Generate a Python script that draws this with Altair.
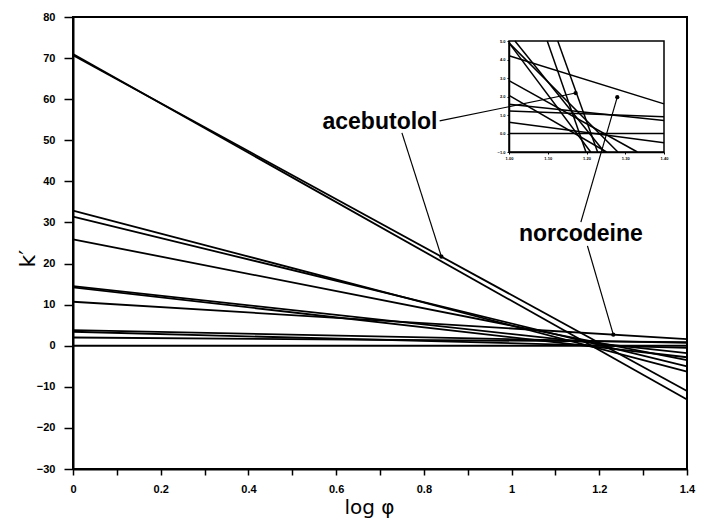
import altair as alt
import pandas as pd
import numpy as np

# ---------------- data ----------------
compounds = ["c1", "acebutolol", "c3", "c4", "c5", "c6", "c7", "norcodeine", "c9", "c10", "c11", "c12"]
k_at_logphi_0 = [71.0, 70.7, 32.9, 31.4, 25.9, 14.5, 14.2, 10.7, 3.8, 3.4, 2.0, 0.0]
k_at_logphi_14 = [-13.1, -11.0, -6.3, -5.0, -3.5, -1.8, -2.8, 1.6, 0.7, -0.5, 0.9, 0.0]
logphi_ends = [0.0, 1.4]

x_ticks = [0.0, 0.1, 0.2, 0.3, 0.4, 0.5, 0.6, 0.7, 0.8, 0.9, 1.0, 1.1, 1.2, 1.3, 1.4]
y_ticks = [-30, -20, -10, 0, 10, 20, 30, 40, 50, 60, 70, 80]

inset_x_domain = [1.0, 1.4]
inset_y_domain = [-1.0, 5.0]
inset_x_ticks = [1.0, 1.1, 1.2, 1.3, 1.4]
inset_y_ticks = [-1, 0, 1, 2, 3, 4, 5]

# highlighted points (log phi of marked points)
marked_names = ["acebutolol", "norcodeine"]
marked_logphi = [0.84, 1.232]

label_names = ["acebutolol", "norcodeine"]
label_x = [0.700, 1.158]
label_y = [54.4, 27.2]

# pointer lines (from label to point)
ptr_x = [0.836, 0.750, 1.158, 1.173]
ptr_y = [54.7, 51.8, 30.1, 24.3]
ptr_x2 = [1.146, 0.84, 1.241, 1.232]
ptr_y2 = [61.5, None, 60.5, None]
inset_dot_x = [1.146, 1.241]
inset_dot_y = [61.5, 60.5]

# ---------------- tables ----------------
rows = []
for c, a, b in zip(compounds, k_at_logphi_0, k_at_logphi_14):
    rows.append({"id": c, "x": logphi_ends[0], "y": a})
    rows.append({"id": c, "x": logphi_ends[1], "y": b})
lines_df = pd.DataFrame(rows)


def k_of(name, xv):
    i = compounds.index(name)
    a, b = k_at_logphi_0[i], k_at_logphi_14[i]
    return a + (b - a) * (xv - logphi_ends[0]) / (logphi_ends[1] - logphi_ends[0])


pts_df = pd.DataFrame({
    "x": marked_logphi,
    "y": [k_of(n, v) for n, v in zip(marked_names, marked_logphi)],
})
pts_df = pd.concat([pts_df, pd.DataFrame({"x": inset_dot_x, "y": inset_dot_y})], ignore_index=True)

y2_fixed = []
for i, v in enumerate(ptr_y2):
    if v is None:
        nm = "acebutolol" if i == 1 else "norcodeine"
        y2_fixed.append(k_of(nm, ptr_x2[i]))
    else:
        y2_fixed.append(v)
ptr_df = pd.DataFrame({"x": ptr_x, "y": ptr_y, "x2": ptr_x2, "y2": y2_fixed})
lab_df = pd.DataFrame({"name": label_names, "x": label_x, "y": label_y})


# clip lines to inset box (Liang-Barsky)
def clip(x0, y0, x1, y1, xmin, xmax, ymin, ymax):
    dx, dy = x1 - x0, y1 - y0
    p = [-dx, dx, -dy, dy]
    q = [x0 - xmin, xmax - x0, y0 - ymin, ymax - y0]
    u1, u2 = 0.0, 1.0
    for pi, qi in zip(p, q):
        if pi == 0:
            if qi < 0:
                return None
        else:
            t = qi / pi
            if pi < 0:
                u1 = max(u1, t)
            else:
                u2 = min(u2, t)
    if u1 > u2:
        return None
    return (x0 + u1 * dx, y0 + u1 * dy, x0 + u2 * dx, y0 + u2 * dy)


irows = []
for c, a, b in zip(compounds, k_at_logphi_0, k_at_logphi_14):
    seg = clip(logphi_ends[0], a, logphi_ends[1], b,
               inset_x_domain[0], inset_x_domain[1], inset_y_domain[0], inset_y_domain[1])
    if seg:
        irows.append({"id": c, "x": seg[0], "y": seg[1]})
        irows.append({"id": c, "x": seg[2], "y": seg[3]})
inset_df = pd.DataFrame(irows)
frame_df = pd.DataFrame({"x": [inset_x_domain[0]], "x2": [inset_x_domain[1]],
                         "y": [inset_y_domain[0]], "y2": [inset_y_domain[1]]})

# ---------------- layout constants ----------------
W, H = 614, 452
inset_px_x = [436, 591]
inset_px_y = [135, 24]

xs = alt.Scale(domain=logphi_ends, nice=False, zero=False)
ys = alt.Scale(domain=[-30, 80], nice=False, zero=False)

x_axis = alt.Axis(values=x_ticks, grid=False,
                  labelExpr="round(datum.value*10) % 2 == 0 ? format(datum.value, '~g') : ''",
                  labelFlush=False, labelOverlap=False,
                  tickSize=6, tickWidth=1.5, tickColor="black",
                  domainColor="black", domainWidth=2,
                  labelFont="Liberation Sans", labelFontWeight="bold", labelFontSize=11,
                  labelColor="black", labelPadding=8,
                  title="log φ", titleFont="DejaVu Sans", titleFontSize=20, titleFontWeight="normal",
                  titleColor="black", titleX=296, titleY=44, titleBaseline="alphabetic",
                  titleAlign="center")
y_axis = alt.Axis(values=y_ticks, grid=False, labelFlush=False, labelOverlap=False,
                  tickSize=9, tickWidth=1.5, tickColor="black",
                  domainColor="black", domainWidth=2,
                  labelFont="Liberation Sans", labelFontWeight="bold", labelFontSize=11,
                  labelColor="black", labelPadding=9,
                  title="k′", titleFont="DejaVu Sans", titleFontSize=22, titleFontWeight="normal",
                  titleColor="black", titleAngle=270, titleX=-46, titleY=241,
                  titleAlign="center", titleBaseline="middle")

base_x = alt.X("x:Q", scale=xs, axis=x_axis)
base_y = alt.Y("y:Q", scale=ys, axis=y_axis)

lines = alt.Chart(lines_df).mark_line(color="black", strokeWidth=1.8).encode(
    x=base_x, y=base_y, detail="id:N")
pointers = alt.Chart(ptr_df).mark_rule(color="black", strokeWidth=1.2).encode(
    x=alt.X("x:Q", scale=xs), y=alt.Y("y:Q", scale=ys), x2="x2:Q", y2="y2:Q")
dots = alt.Chart(pts_df).mark_circle(color="black", opacity=1, size=18).encode(
    x=alt.X("x:Q", scale=xs), y=alt.Y("y:Q", scale=ys))
labels = alt.Chart(lab_df).mark_text(font="Liberation Sans", fontWeight="bold", fontSize=23,
                                     color="black", baseline="middle", align="center").encode(
    x=alt.X("x:Q", scale=xs), y=alt.Y("y:Q", scale=ys), text="name:N")

main = alt.layer(lines, pointers, dots, labels)

ixs = alt.Scale(domain=inset_x_domain, range=inset_px_x, nice=False, zero=False)
iys = alt.Scale(domain=inset_y_domain, range=inset_px_y, nice=False, zero=False)
ix_axis = alt.Axis(orient="bottom", offset=-(H - inset_px_y[0]), values=inset_x_ticks, grid=False,
                   title=None, tickSize=2, tickColor="black", domainColor="black", domainWidth=1.5,
                   labelFontSize=4, labelFont="Liberation Sans", labelFontWeight="bold",
                   labelColor="black", labelPadding=2, labelFlush=False, labelOverlap=False)
iy_axis = alt.Axis(orient="left", offset=-inset_px_x[0], values=inset_y_ticks, grid=False,
                   title=None, tickSize=2, tickColor="black", domainColor="black", domainWidth=1.5,
                   labelFontSize=4, labelFont="Liberation Sans", labelFontWeight="bold",
                   labelColor="black", labelPadding=2, labelFlush=False, labelOverlap=False)

inset_lines = alt.Chart(inset_df).mark_line(color="black", strokeWidth=1.5).encode(
    x=alt.X("x:Q", scale=ixs, axis=ix_axis), y=alt.Y("y:Q", scale=iys, axis=iy_axis), detail="id:N")
inset_frame = alt.Chart(frame_df).mark_rect(fillOpacity=0, stroke="black", strokeWidth=1.5).encode(
    x=alt.X("x:Q", scale=ixs), x2="x2:Q", y=alt.Y("y:Q", scale=iys), y2="y2:Q")
inset = alt.layer(inset_frame, inset_lines)

chart = alt.layer(main, inset).resolve_scale(x="independent", y="independent").properties(
    width=W, height=H,
    autosize=alt.AutoSizeParams(type="none"),
    padding={"left": 65, "top": 9, "right": 10, "bottom": 49},
    background="white",
).configure_view(stroke="black", strokeWidth=2)

chart.save("out.html", embed_options={"renderer": "svg", "actions": False})
